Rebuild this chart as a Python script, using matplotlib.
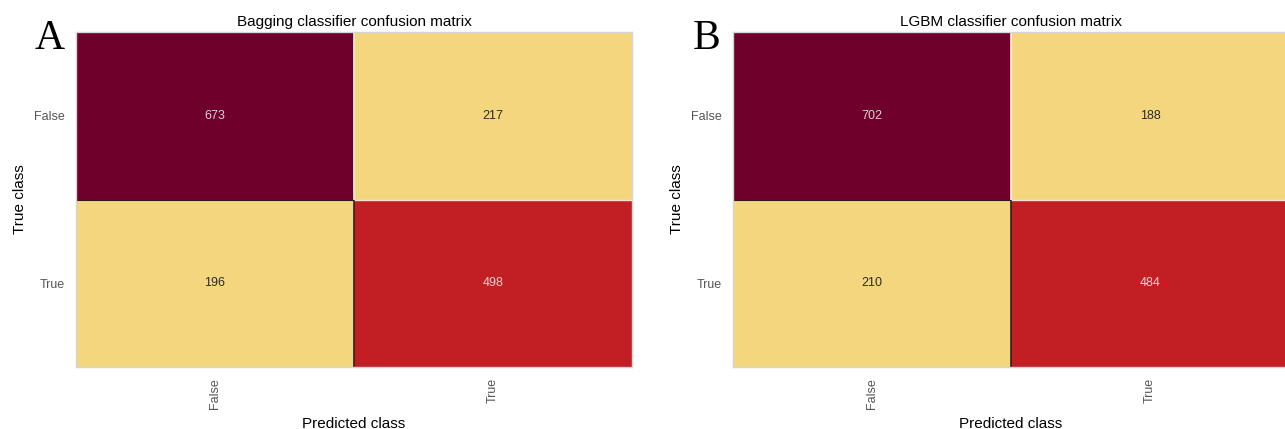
import matplotlib
matplotlib.use('Agg')
import matplotlib.pyplot as plt
from matplotlib.colors import ListedColormap, BoundaryNorm
import numpy as np

plt.rcParams['font.family'] = ['Liberation Sans', 'DejaVu Sans']

classes = ["False", "True"]

bagging_cm = np.array([[673, 217],
                       [196, 498]])
lgbm_cm = np.array([[702, 188],
                    [210, 484]])

titles = ["Bagging classifier confusion matrix", "LGBM classifier confusion matrix"]
panel_letters = ["A", "B"]

# 9-step YlOrRd sequence (tones as printed)
ylorrd = ["#ffffcc", "#ffeda0", "#f3d67d", "#feb24c", "#fd8d3c",
          "#fc4e2a", "#c11f23", "#a3002a", "#6e002b"]
cmap = ListedColormap(ylorrd)


def draw_matrix(ax, cm, title, letter):
    n = len(classes)
    norm = BoundaryNorm(np.linspace(0, cm.max(), len(ylorrd) + 1), len(ylorrd), clip=True)
    edges = np.arange(n + 1)
    ax.pcolormesh(edges, edges, cm, cmap=cmap, norm=norm, linewidth=0)
    ax.set_xlim(0, n)
    ax.set_ylim(n, 0)

    # thin seams between the cells
    ax.vlines(1, 0, 1, color="#fbf1e4", lw=1.2)
    ax.vlines(1, 1, 2, color="#2a2222", lw=1.2)
    ax.hlines(1, 1, 2, color="#f6e2d0", lw=1.0)
    ax.hlines(1, 0, 1, color="#3a1520", lw=0.8)

    for i in range(n):
        for j in range(n):
            frac = cm[i, j] / cm.max()
            if frac > 0.5:
                col, alpha = "white", 0.8
            else:
                col, alpha = "#222222", 0.95
            ax.text(j + 0.5, i + 0.5, str(cm[i, j]), ha="center", va="center",
                    fontsize=9, color=col, alpha=alpha)

    ax.set_xticks(np.arange(n) + 0.5)
    ax.set_yticks(np.arange(n) + 0.5)
    ax.set_xticklabels(classes, rotation=90, fontsize=9, color="#555555")
    ax.set_yticklabels(classes, fontsize=9, color="#555555")
    ax.tick_params(length=0, pad=8)
    ax.set_xlabel("Predicted class", fontsize=11, labelpad=6)
    ax.set_ylabel("True class", fontsize=11, labelpad=5)
    ax.set_title(title, fontsize=11, pad=4)
    for sp in ax.spines.values():
        sp.set_color("#d4d4d4")
        sp.set_linewidth(1.0)

    ax.text(-0.047, 0.979, letter, transform=ax.transAxes, ha="center", va="center",
            fontsize=30, family="Liberation Serif")


fig = plt.figure(figsize=(12.85, 4.29), dpi=100)
ax_a = fig.add_axes([0.0591, 0.1445, 0.4327, 0.7809])
ax_b = fig.add_axes([0.5704, 0.1445, 0.4327, 0.7809])

draw_matrix(ax_a, bagging_cm, titles[0], panel_letters[0])
draw_matrix(ax_b, lgbm_cm, titles[1], panel_letters[1])

fig.savefig("out.png", dpi=100)
